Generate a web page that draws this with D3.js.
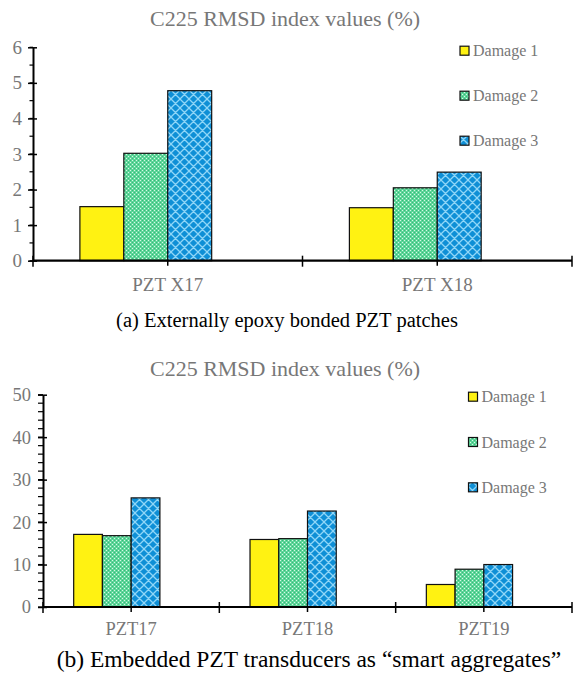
<!DOCTYPE html>
<html>
<head>
<meta charset="utf-8">
<script src="https://cdn.jsdelivr.net/npm/d3@7"></script>
<style>
html,body{margin:0;padding:0;background:#fff;}
svg{display:block;}
svg text{font-family:"Liberation Serif","Times New Roman",Times,serif;}
</style>
</head>
<body>
<svg id="chart" width="574" height="673"></svg>
<script>
// ---- data ----
const seriesNames = ["Damage 1", "Damage 2", "Damage 3"];
const titleText = "C225 RMSD index values (%)";

const categoriesA = ["PZT X17", "PZT X18"];
const damage1A = [1.52, 1.49];
const damage2A = [3.02, 2.05];
const damage3A = [4.78, 2.49];
const yTicksA = [0, 1, 2, 3, 4, 5, 6];
const captionA = "(a) Externally epoxy bonded PZT patches";

const categoriesB = ["PZT17", "PZT18", "PZT19"];
const damage1B = [17.1, 15.9, 5.3];
const damage2B = [16.8, 16.1, 8.9];
const damage3B = [25.7, 22.6, 10.0];
const yTicksB = [0, 10, 20, 30, 40, 50];
const captionB = "(b) Embedded PZT transducers as \u201Csmart aggregates\u201D";

// ---- drawing ----
const svg = d3.select("#chart");
const defs = svg.append("defs");
const FONT = '"Liberation Serif","Times New Roman",Times,serif';
const GRAY = "#777";

// green checker pattern
const pg = defs.append("pattern").attr("id", "pGreen").attr("patternUnits", "userSpaceOnUse")
  .attr("width", 4).attr("height", 4);
pg.append("rect").attr("width", 4).attr("height", 4).attr("fill", "#5ed69a").attr("shape-rendering", "crispEdges");
pg.append("rect").attr("x", 0).attr("y", 0).attr("width", 1).attr("height", 1).attr("fill", "#d8f8e6").attr("shape-rendering", "crispEdges");
pg.append("rect").attr("x", 2).attr("y", 2).attr("width", 1).attr("height", 1).attr("fill", "#d8f8e6").attr("shape-rendering", "crispEdges");
pg.append("rect").attr("x", 2).attr("y", 0).attr("width", 1).attr("height", 1).attr("fill", "#38b877").attr("shape-rendering", "crispEdges");
pg.append("rect").attr("x", 0).attr("y", 2).attr("width", 1).attr("height", 1).attr("fill", "#38b877").attr("shape-rendering", "crispEdges");

// blue diamond lattice pattern
const pb = defs.append("pattern").attr("id", "pBlue").attr("patternUnits", "userSpaceOnUse")
  .attr("width", 9).attr("height", 9);
pb.append("rect").attr("width", 9).attr("height", 9).attr("fill", "#0e8fd6");
pb.append("path").attr("d", "M0,0 L9,9 M9,0 L0,9 M-1,8 L1,10 M8,-1 L10,1 M-1,1 L1,-1 M8,10 L10,8")
  .attr("stroke", "#8fd6f7").attr("stroke-width", 1.3).attr("fill", "none");

const fills = ["#fff212", "url(#pGreen)", "url(#pBlue)"];
const slots = ["s0", "s1", "s2", "s3"];

function drawPanel(cfg) {
  const g = svg.append("g");
  const x = d3.scaleBand().domain(cfg.categories).range([cfg.x0, cfg.x1]).padding(0);
  const cw = x.bandwidth();
  const xs = d3.scaleBand().domain(slots).range([cw * 0.174, cw * 0.826]).padding(0);
  const y = d3.scaleLinear().domain([0, cfg.yMax]).range([cfg.y0, cfg.yTop]);

  // bars
  cfg.series.forEach((vals, si) => {
    g.selectAll(null).data(vals).enter().append("rect")
      .attr("x", (d, i) => x(cfg.categories[i]) + xs(slots[si]))
      .attr("y", d => y(d))
      .attr("width", xs.bandwidth())
      .attr("height", d => y(0) - y(d))
      .attr("fill", fills[si])
      .attr("stroke", "#111")
      .attr("stroke-width", 1.2);
  });

  // y axis minor ticks
  const minor = d3.range(0, cfg.yMax + 1e-9, cfg.minorStep);
  g.selectAll(null).data(minor).enter().append("line")
    .attr("x1", cfg.x0 - cfg.minorLen).attr("x2", cfg.x0)
    .attr("y1", d => y(d)).attr("y2", d => y(d))
    .attr("stroke", "#000").attr("stroke-width", 1.2);
  // y axis
  const ya = g.append("g").attr("transform", `translate(${cfg.x0},0)`)
    .call(d3.axisLeft(y).tickValues(cfg.yTicks).tickFormat(d3.format("d"))
      .tickSize(cfg.majorLen).tickPadding(cfg.tickPad).tickSizeOuter(0));
  ya.attr("font-family", null);
  ya.select(".domain").attr("stroke", "#000").attr("stroke-width", 2);
  ya.selectAll(".tick line").attr("x2", cfg.majorLen - 1).attr("x1", -cfg.majorLen)
    .attr("stroke-width", 1.5).attr("stroke", "#000");
  ya.selectAll(".tick text").style("font-family", FONT).attr("font-size", cfg.tickFont).attr("fill", GRAY);

  // x axis
  g.append("line").attr("x1", cfg.x0).attr("x2", cfg.x1).attr("y1", cfg.y0).attr("y2", cfg.y0)
    .attr("stroke", "#000").attr("stroke-width", 2.2);
  const bounds = cfg.categories.map(c => x(c)).concat([cfg.x1]);
  g.selectAll(null).data(bounds).enter().append("line")
    .attr("x1", d => d).attr("x2", d => d).attr("y1", cfg.y0 - 5).attr("y2", cfg.y0 + 6)
    .attr("stroke", "#000").attr("stroke-width", 1.5);
  g.selectAll(null).data(cfg.categories).enter().append("line")
    .attr("x1", d => x(d) + cw / 2).attr("x2", d => x(d) + cw / 2)
    .attr("y1", cfg.y0).attr("y2", cfg.y0 + 5)
    .attr("stroke", "#000").attr("stroke-width", 1.5);
  g.selectAll(null).data(cfg.categories).enter().append("text")
    .attr("x", d => x(d) + cw / 2).attr("y", cfg.xLabelY)
    .attr("text-anchor", "middle").style("font-family", FONT).attr("font-size", cfg.xFont)
    .attr("fill", GRAY).text(d => d);

  // title
  g.append("text").attr("x", cfg.titleX).attr("y", cfg.titleY).attr("text-anchor", "middle")
    .style("font-family", FONT).attr("font-size", 22).attr("fill", GRAY).text(titleText);

  // legend
  seriesNames.forEach((n, i) => {
    const ly = cfg.legY + i * cfg.legStep;
    g.append("rect").attr("x", cfg.legX).attr("y", ly - 4.5).attr("width", 9).attr("height", 9)
      .attr("fill", fills[i]).attr("stroke", "#111").attr("stroke-width", 1.2);
    g.append("text").attr("x", cfg.legX + 13).attr("y", ly + 5.5)
      .style("font-family", FONT).attr("font-size", 16).attr("fill", GRAY).text(n);
  });

  // caption
  g.append("text").attr("x", cfg.capX).attr("y", cfg.capY).attr("text-anchor", "middle")
    .style("font-family", FONT).attr("font-size", cfg.capFont).attr("fill", "#000").text(cfg.caption);
}

drawPanel({
  categories: categoriesA, series: [damage1A, damage2A, damage3A], yTicks: yTicksA,
  yMax: 6, minorStep: 0.5, x0: 33, x1: 572, y0: 260.7, yTop: 47.3,
  majorLen: 5, minorLen: 3.5, tickPad: 6, tickFont: 19, xFont: 19, xLabelY: 291,
  titleX: 285, titleY: 26, legX: 460, legY: 50.7, legStep: 45,
  caption: captionA, capX: 287, capY: 327, capFont: 20.5
});

drawPanel({
  categories: categoriesB, series: [damage1B, damage2B, damage3B], yTicks: yTicksB,
  yMax: 50, minorStep: 2, x0: 43, x1: 572, y0: 607, yTop: 394.7,
  majorLen: 5, minorLen: 5, tickPad: 7, tickFont: 18.5, xFont: 18.5, xLabelY: 635,
  titleX: 285, titleY: 376, legX: 468.5, legY: 396.7, legStep: 45.3,
  caption: captionB, capX: 309, capY: 667, capFont: 23.5
});
</script>
</body>
</html>
